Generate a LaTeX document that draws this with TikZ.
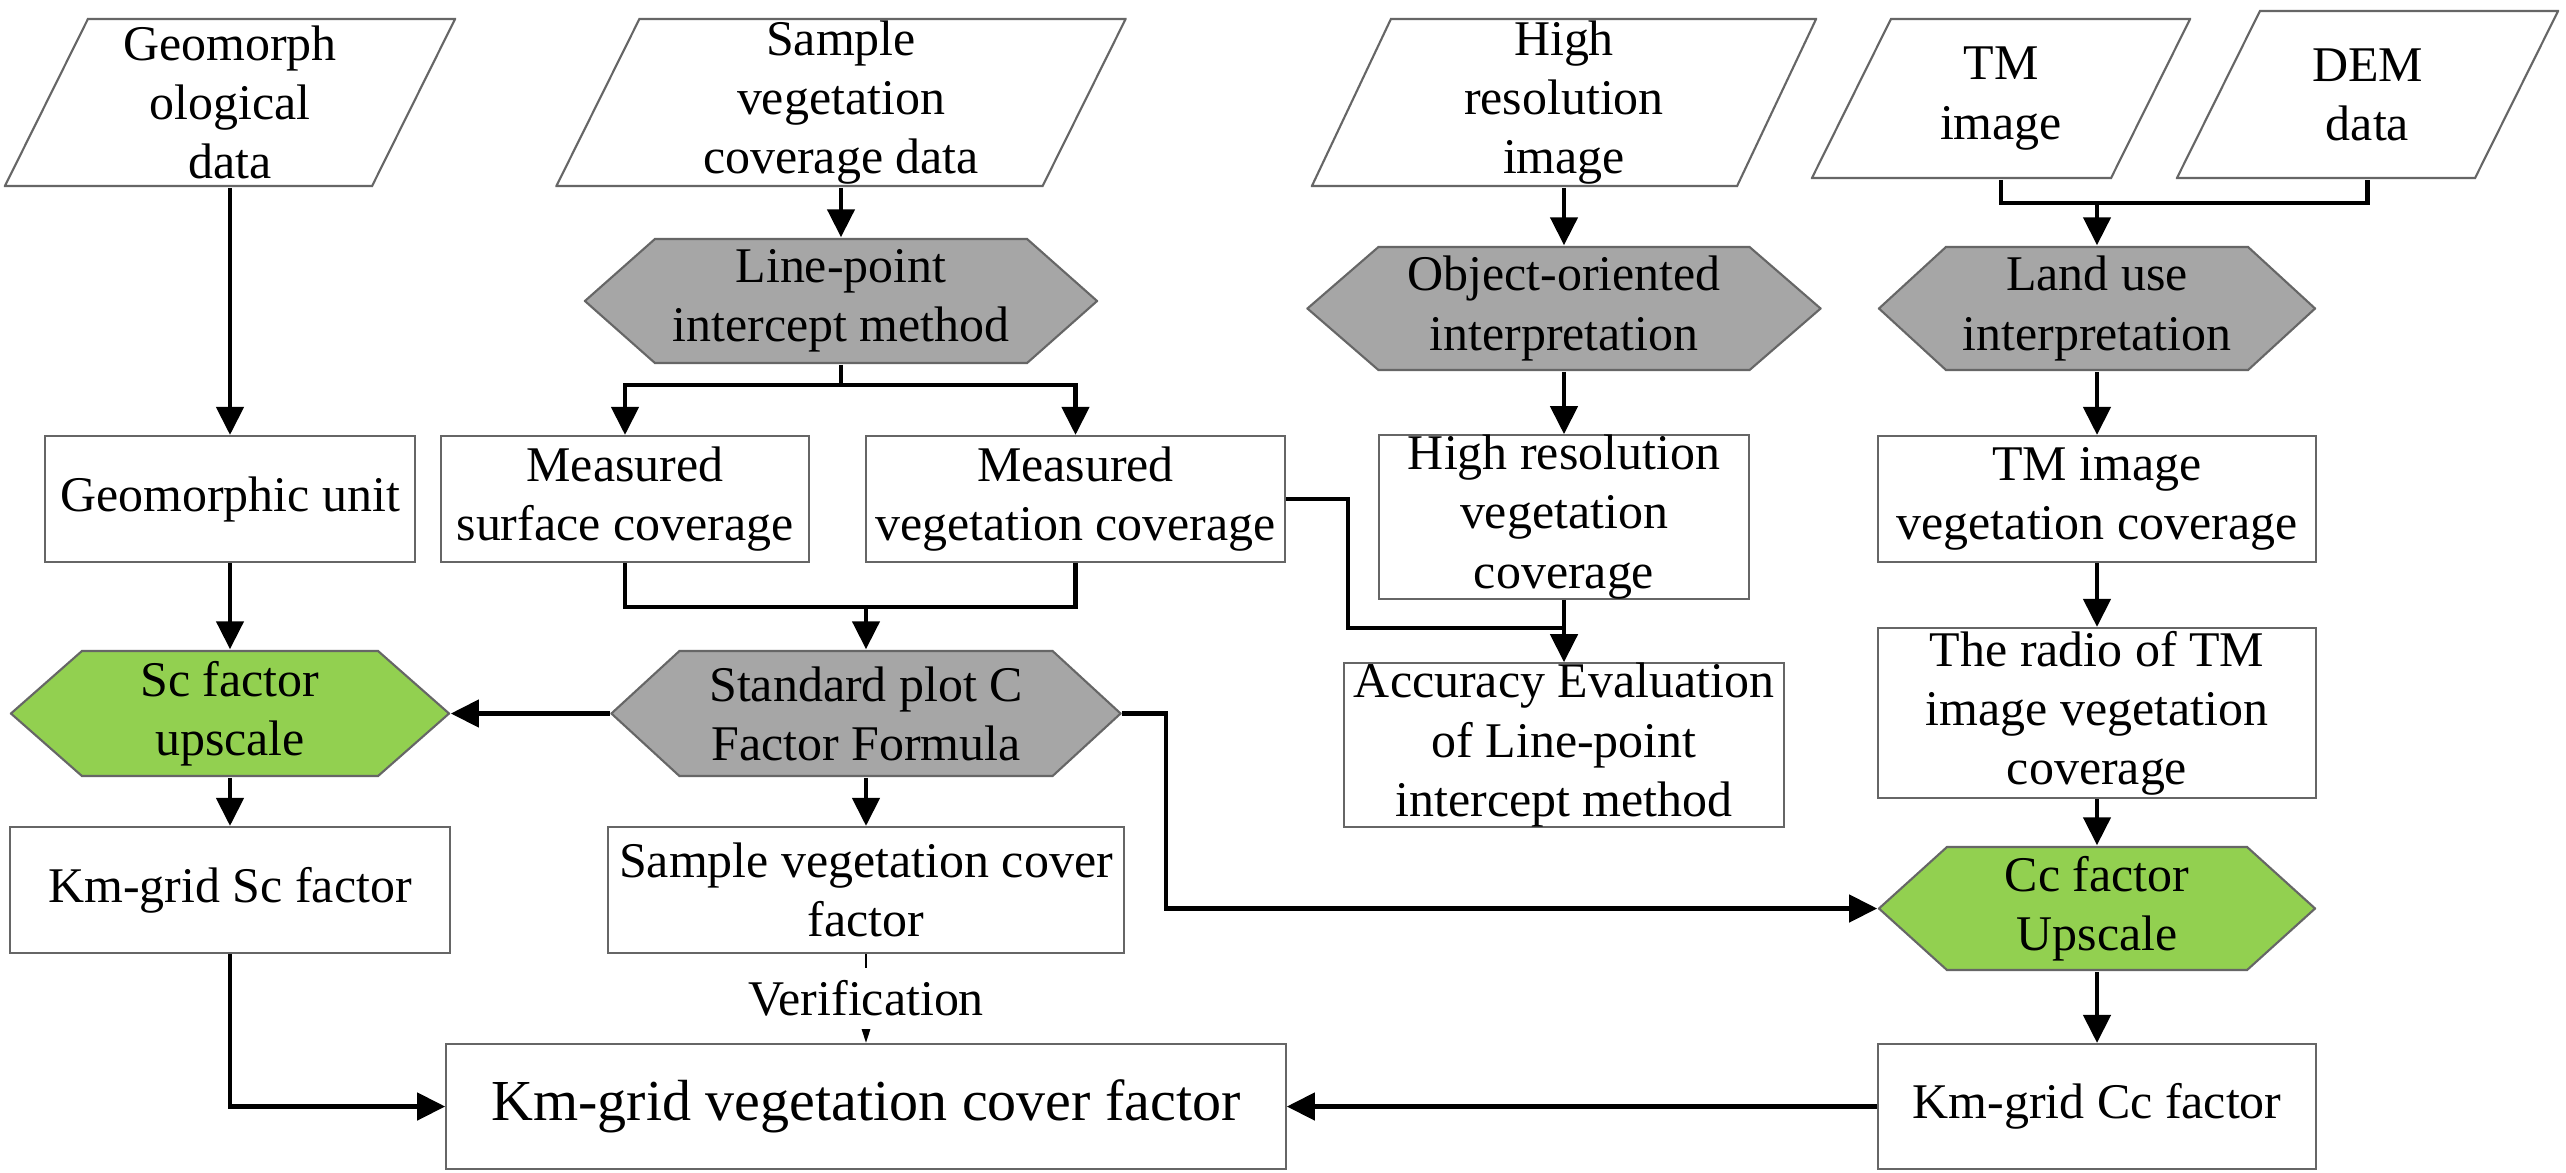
\documentclass[tikz,border=0pt]{standalone}
\usepackage{fontspec}
\setmainfont{Liberation Serif}
\usetikzlibrary{arrows.meta,calc}
\definecolor{hexgray}{HTML}{A6A6A6}
\definecolor{hexgreen}{HTML}{92D050}
\newcommand\myfs{\fontsize{14.2pt}{16.8pt}\selectfont}
\newcommand\mybigfs{\fontsize{16.5pt}{19pt}\selectfont}
\tikzset{
  box/.style={draw=black!60, line width=0.6pt, fill=white, inner sep=0pt, align=center, font=\myfs},
  para/.style={inner sep=0pt, align=center, font=\myfs,
    path picture={\draw[draw=black!60, line width=0.6pt]
      ([xshift=0.3pt, yshift=0.3pt]path picture bounding box.south west) --
      ([xshift=#1, yshift=-0.3pt]path picture bounding box.north west) --
      ([xshift=-0.3pt, yshift=-0.3pt]path picture bounding box.north east) --
      ([xshift=-#1, yshift=0.3pt]path picture bounding box.south east) -- cycle;}},
  hexa/.style 2 args={inner sep=0pt, align=center, font=\myfs,
    path picture={\path[fill=#1, draw=black!60, line width=0.6pt]
      ([xshift=0.3pt]path picture bounding box.west) --
      ([xshift=#2, yshift=-0.3pt]path picture bounding box.north west) --
      ([xshift=-#2, yshift=-0.3pt]path picture bounding box.north east) --
      ([xshift=-0.3pt]path picture bounding box.east) --
      ([xshift=-#2, yshift=0.3pt]path picture bounding box.south east) --
      ([xshift=#2, yshift=0.3pt]path picture bounding box.south west) -- cycle;}},
  ln/.style={line width=1.3pt},
  arr/.style={line width=1.3pt, -{Triangle[length=0.28cm, width=0.27cm]}},
}
\begin{document}
\begin{tikzpicture}[x=0.01cm, y=-0.01cm]
\fill[white] (0,0) rectangle (2566,1172);
\useasboundingbox (0,0) rectangle (2566,1172);

% inputs
\node[para=0.84cm, minimum width=4.52cm, minimum height=1.69cm] (geo) at (230,102.5) {Geomorph\\ological\\data};
\node[para=0.84cm, minimum width=5.71cm, minimum height=1.69cm] (samp) at (841,102.5) {Sample\\vegetation\\coverage data};
\node[para=0.80cm, minimum width=5.06cm, minimum height=1.69cm] (hires) at (1564,102.5) {High\\resolution\\image};
\node[para=0.80cm, minimum width=3.80cm, minimum height=1.61cm] (tm) at (2001,98.5) {TM\\image};
\node[para=0.84cm, minimum width=3.83cm, minimum height=1.69cm] (dem) at (2367.5,94.5) {DEM\\data};

% hexagons
\node[hexa={hexgray}{0.71cm}, minimum width=5.14cm, minimum height=1.26cm] (lpi) at (841,301) {Line-point\\intercept method};
\node[hexa={hexgray}{0.72cm}, minimum width=5.15cm, minimum height=1.25cm] (ooi) at (1564,308.5) {Object-oriented\\interpretation};
\node[hexa={hexgray}{0.68cm}, minimum width=4.38cm, minimum height=1.25cm] (lui) at (2097,308.5) {Land use\\interpretation};
\node[hexa={hexgreen}{0.72cm}, minimum width=4.40cm, minimum height=1.27cm] (sc) at (230,713.5) {Sc factor\\upscale};
\node[hexa={hexgray}{0.69cm}, minimum width=5.11cm, minimum height=1.27cm] (std) at (866,713.5) {Standard plot C\\Factor Formula};
\node[hexa={hexgreen}{0.69cm}, minimum width=4.38cm, minimum height=1.25cm] (cc) at (2097,908.5) {Cc factor\\Upscale};

% boxes
\node[box, minimum width=3.69cm, minimum height=1.26cm] (gu) at (230,499) {Geomorphic unit};
\node[box, minimum width=3.68cm, minimum height=1.26cm] (msc) at (625,499) {Measured\\surface coverage};
\node[box, minimum width=4.19cm, minimum height=1.26cm] (mvc) at (1075.5,499) {Measured\\vegetation coverage};
\node[box, minimum width=3.69cm, minimum height=1.62cm] (hrvc) at (1564,517) {High resolution\\vegetation\\coverage};
\node[box, minimum width=4.38cm, minimum height=1.26cm] (tmvc) at (2097,499) {TM image\\vegetation coverage};
\node[box, minimum width=4.40cm, minimum height=1.62cm] (acc) at (1564,745) {Accuracy Evaluation\\of Line-point\\intercept method};
\node[box, minimum width=4.38cm, minimum height=1.70cm] (radio) at (2097,713) {The radio of TM\\image vegetation\\coverage};
\node[box, minimum width=4.40cm, minimum height=1.26cm] (kmsc) at (230,890) {Km-grid Sc factor};
\node[box, minimum width=5.15cm, minimum height=1.26cm] (svcf) at (866,890) {Sample vegetation cover\\factor};
\node[box, minimum width=8.39cm, minimum height=1.25cm, font=\mybigfs] (kmveg) at (866,1106.5) {Km-grid vegetation cover factor};
\node[box, minimum width=4.38cm, minimum height=1.25cm] (kmcc) at (2097,1106.5) {Km-grid Cc factor};

% connectors
\draw[arr] (geo.south) -- (geo.south |- gu.north);
\draw[arr] (samp.south) -- (samp.south |- lpi.north);
\coordinate (b1) at (841,385);
\draw[ln] (lpi.south) -- (b1);
\draw[arr] (b1) -| (msc.north);
\draw[arr] (b1) -| (mvc.north);
\coordinate (b2) at (866,607);
\draw[ln] (msc.south) |- (b2) -| (mvc.south);
\draw[arr] (b2) -- (std.north);
\draw[arr] (gu.south) -- (sc.north);
\draw[arr] (std.west) -- (sc.east);
\coordinate (b3) at (1166,713.5);
\draw[arr] (std.east) -- (b3) |- (cc.west);
\draw[arr] (sc.south) -- (kmsc.north);
\draw[arr] (std.south) -- (svcf.north);
\draw[line width=0.6pt, -{Triangle[length=0.15cm, width=0.09cm]}] (svcf.south) -- node[fill=white, font=\myfs, inner xsep=1pt, inner ysep=3.7pt] (ver) {Verification} (kmveg.north);
\draw[arr] (kmsc.south) |- (kmveg.west);
\draw[arr] (kmcc.west) -- (kmveg.east);
\draw[arr] (hires.south) -- (ooi.north);
\draw[arr] (ooi.south) -- (hrvc.north);
\draw[arr] (hrvc.south) -- (acc.north);
\coordinate (b4) at (1348,628);
\draw[ln] (mvc.east) -| (b4) -- (b4 -| acc.north);
\coordinate (b5) at (2097,203);
\draw[ln] (tm.south) |- (b5) -| (dem.south);
\draw[arr] (b5) -- (lui.north);
\draw[arr] (lui.south) -- (tmvc.north);
\draw[arr] (tmvc.south) -- (radio.north);
\draw[arr] (radio.south) -- (cc.north);
\draw[arr] (cc.south) -- (kmcc.north);
\end{tikzpicture}
\end{document}
